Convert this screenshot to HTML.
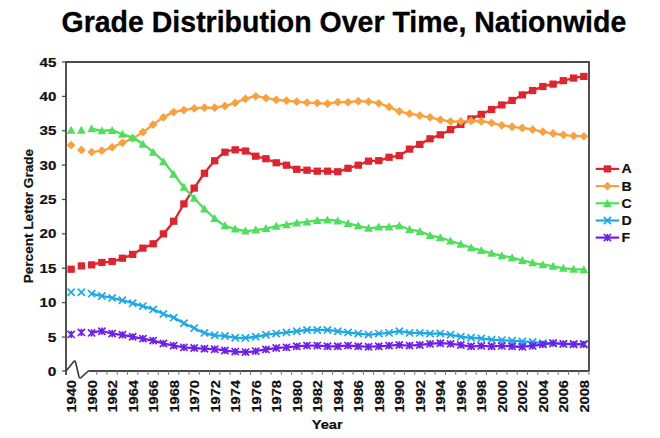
<!DOCTYPE html><html><head><meta charset="utf-8"><style>html,body{margin:0;padding:0;background:#fff;}svg{display:block;}text{font-family:"Liberation Sans",sans-serif;font-weight:bold;fill:#111;stroke:#111;stroke-width:0.2px;}</style></head><body>
<svg width="660" height="438" viewBox="0 0 660 438">
<rect width="660" height="438" fill="#fff"/>
<text transform="translate(61.5,32.2) scale(1,1.05)" x="0" y="0" font-size="28.5" style="fill:#000;stroke:#000;stroke-width:0.3px">Grade Distribution Over Time, Nationwide</text>
<path d="M66.0,62.0H589.0V371.0" stroke="#4a4a4a" stroke-width="1.9" fill="none"/>
<path d="M66.0,61.0V375.0" stroke="#4a4a4a" stroke-width="1.9" fill="none"/>
<path d="M62,371.00H66.0" stroke="#444" stroke-width="1.2"/>
<text x="56.4" y="375.60" font-size="12.6" text-anchor="end" textLength="8.6" lengthAdjust="spacingAndGlyphs">0</text>
<path d="M62,337.02H66.0" stroke="#444" stroke-width="1.2"/>
<text x="56.4" y="341.62" font-size="12.6" text-anchor="end" textLength="8.6" lengthAdjust="spacingAndGlyphs">5</text>
<path d="M62,302.64H66.0" stroke="#444" stroke-width="1.2"/>
<text x="56.4" y="307.24" font-size="12.6" text-anchor="end" textLength="16.8" lengthAdjust="spacingAndGlyphs">10</text>
<path d="M62,268.26H66.0" stroke="#444" stroke-width="1.2"/>
<text x="56.4" y="272.86" font-size="12.6" text-anchor="end" textLength="16.8" lengthAdjust="spacingAndGlyphs">15</text>
<path d="M62,233.88H66.0" stroke="#444" stroke-width="1.2"/>
<text x="56.4" y="238.48" font-size="12.6" text-anchor="end" textLength="16.8" lengthAdjust="spacingAndGlyphs">20</text>
<path d="M62,199.50H66.0" stroke="#444" stroke-width="1.2"/>
<text x="56.4" y="204.10" font-size="12.6" text-anchor="end" textLength="16.8" lengthAdjust="spacingAndGlyphs">25</text>
<path d="M62,165.12H66.0" stroke="#444" stroke-width="1.2"/>
<text x="56.4" y="169.72" font-size="12.6" text-anchor="end" textLength="16.8" lengthAdjust="spacingAndGlyphs">30</text>
<path d="M62,130.74H66.0" stroke="#444" stroke-width="1.2"/>
<text x="56.4" y="135.34" font-size="12.6" text-anchor="end" textLength="16.8" lengthAdjust="spacingAndGlyphs">35</text>
<path d="M62,96.36H66.0" stroke="#444" stroke-width="1.2"/>
<text x="56.4" y="100.96" font-size="12.6" text-anchor="end" textLength="16.8" lengthAdjust="spacingAndGlyphs">40</text>
<path d="M62,61.98H66.0" stroke="#444" stroke-width="1.2"/>
<text x="56.4" y="66.58" font-size="12.6" text-anchor="end" textLength="16.8" lengthAdjust="spacingAndGlyphs">45</text>
<path d="M66.0,371.0 L73.6,361.8 Q74.9,360.2 75.6,362.2 L79.0,376.8 Q79.8,378.6 81.0,377.6 L88.4,371.0 Q89,371.0 90,371.0" stroke="#3a3a3a" stroke-width="1.6" fill="none" stroke-linejoin="round"/>
<path d="M89.5,371.0H589.0" stroke="#4a4a4a" stroke-width="1.9" fill="none"/>
<path d="M96.76,371.0V374.8" stroke="#7a7a7a" stroke-width="1.1"/>
<path d="M107.02,371.0V374.8" stroke="#7a7a7a" stroke-width="1.1"/>
<path d="M117.27,371.0V374.8" stroke="#7a7a7a" stroke-width="1.1"/>
<path d="M127.53,371.0V374.8" stroke="#7a7a7a" stroke-width="1.1"/>
<path d="M137.78,371.0V374.8" stroke="#7a7a7a" stroke-width="1.1"/>
<path d="M148.04,371.0V374.8" stroke="#7a7a7a" stroke-width="1.1"/>
<path d="M158.29,371.0V374.8" stroke="#7a7a7a" stroke-width="1.1"/>
<path d="M168.55,371.0V374.8" stroke="#7a7a7a" stroke-width="1.1"/>
<path d="M178.80,371.0V374.8" stroke="#7a7a7a" stroke-width="1.1"/>
<path d="M189.06,371.0V374.8" stroke="#7a7a7a" stroke-width="1.1"/>
<path d="M199.31,371.0V374.8" stroke="#7a7a7a" stroke-width="1.1"/>
<path d="M209.57,371.0V374.8" stroke="#7a7a7a" stroke-width="1.1"/>
<path d="M219.82,371.0V374.8" stroke="#7a7a7a" stroke-width="1.1"/>
<path d="M230.08,371.0V374.8" stroke="#7a7a7a" stroke-width="1.1"/>
<path d="M240.33,371.0V374.8" stroke="#7a7a7a" stroke-width="1.1"/>
<path d="M250.59,371.0V374.8" stroke="#7a7a7a" stroke-width="1.1"/>
<path d="M260.84,371.0V374.8" stroke="#7a7a7a" stroke-width="1.1"/>
<path d="M271.10,371.0V374.8" stroke="#7a7a7a" stroke-width="1.1"/>
<path d="M281.35,371.0V374.8" stroke="#7a7a7a" stroke-width="1.1"/>
<path d="M291.61,371.0V374.8" stroke="#7a7a7a" stroke-width="1.1"/>
<path d="M301.86,371.0V374.8" stroke="#7a7a7a" stroke-width="1.1"/>
<path d="M312.12,371.0V374.8" stroke="#7a7a7a" stroke-width="1.1"/>
<path d="M322.37,371.0V374.8" stroke="#7a7a7a" stroke-width="1.1"/>
<path d="M332.63,371.0V374.8" stroke="#7a7a7a" stroke-width="1.1"/>
<path d="M342.88,371.0V374.8" stroke="#7a7a7a" stroke-width="1.1"/>
<path d="M353.14,371.0V374.8" stroke="#7a7a7a" stroke-width="1.1"/>
<path d="M363.39,371.0V374.8" stroke="#7a7a7a" stroke-width="1.1"/>
<path d="M373.65,371.0V374.8" stroke="#7a7a7a" stroke-width="1.1"/>
<path d="M383.90,371.0V374.8" stroke="#7a7a7a" stroke-width="1.1"/>
<path d="M394.16,371.0V374.8" stroke="#7a7a7a" stroke-width="1.1"/>
<path d="M404.41,371.0V374.8" stroke="#7a7a7a" stroke-width="1.1"/>
<path d="M414.67,371.0V374.8" stroke="#7a7a7a" stroke-width="1.1"/>
<path d="M424.92,371.0V374.8" stroke="#7a7a7a" stroke-width="1.1"/>
<path d="M435.18,371.0V374.8" stroke="#7a7a7a" stroke-width="1.1"/>
<path d="M445.43,371.0V374.8" stroke="#7a7a7a" stroke-width="1.1"/>
<path d="M455.69,371.0V374.8" stroke="#7a7a7a" stroke-width="1.1"/>
<path d="M465.94,371.0V374.8" stroke="#7a7a7a" stroke-width="1.1"/>
<path d="M476.20,371.0V374.8" stroke="#7a7a7a" stroke-width="1.1"/>
<path d="M486.45,371.0V374.8" stroke="#7a7a7a" stroke-width="1.1"/>
<path d="M496.71,371.0V374.8" stroke="#7a7a7a" stroke-width="1.1"/>
<path d="M506.96,371.0V374.8" stroke="#7a7a7a" stroke-width="1.1"/>
<path d="M517.22,371.0V374.8" stroke="#7a7a7a" stroke-width="1.1"/>
<path d="M527.47,371.0V374.8" stroke="#7a7a7a" stroke-width="1.1"/>
<path d="M537.73,371.0V374.8" stroke="#7a7a7a" stroke-width="1.1"/>
<path d="M547.98,371.0V374.8" stroke="#7a7a7a" stroke-width="1.1"/>
<path d="M558.24,371.0V374.8" stroke="#7a7a7a" stroke-width="1.1"/>
<path d="M568.49,371.0V374.8" stroke="#7a7a7a" stroke-width="1.1"/>
<path d="M578.75,371.0V374.8" stroke="#7a7a7a" stroke-width="1.1"/>
<path d="M589.00,371.0V374.8" stroke="#7a7a7a" stroke-width="1.1"/>
<text transform="translate(71.13,380.0) rotate(-90)" x="0" y="5.1" font-size="12.8" text-anchor="end" textLength="32.6" lengthAdjust="spacingAndGlyphs">1940</text>
<text transform="translate(91.64,380.0) rotate(-90)" x="0" y="5.1" font-size="12.8" text-anchor="end" textLength="32.6" lengthAdjust="spacingAndGlyphs">1960</text>
<text transform="translate(112.15,380.0) rotate(-90)" x="0" y="5.1" font-size="12.8" text-anchor="end" textLength="32.6" lengthAdjust="spacingAndGlyphs">1962</text>
<text transform="translate(132.66,380.0) rotate(-90)" x="0" y="5.1" font-size="12.8" text-anchor="end" textLength="32.6" lengthAdjust="spacingAndGlyphs">1964</text>
<text transform="translate(153.17,380.0) rotate(-90)" x="0" y="5.1" font-size="12.8" text-anchor="end" textLength="32.6" lengthAdjust="spacingAndGlyphs">1966</text>
<text transform="translate(173.68,380.0) rotate(-90)" x="0" y="5.1" font-size="12.8" text-anchor="end" textLength="32.6" lengthAdjust="spacingAndGlyphs">1968</text>
<text transform="translate(194.19,380.0) rotate(-90)" x="0" y="5.1" font-size="12.8" text-anchor="end" textLength="32.6" lengthAdjust="spacingAndGlyphs">1970</text>
<text transform="translate(214.70,380.0) rotate(-90)" x="0" y="5.1" font-size="12.8" text-anchor="end" textLength="32.6" lengthAdjust="spacingAndGlyphs">1972</text>
<text transform="translate(235.21,380.0) rotate(-90)" x="0" y="5.1" font-size="12.8" text-anchor="end" textLength="32.6" lengthAdjust="spacingAndGlyphs">1974</text>
<text transform="translate(255.72,380.0) rotate(-90)" x="0" y="5.1" font-size="12.8" text-anchor="end" textLength="32.6" lengthAdjust="spacingAndGlyphs">1976</text>
<text transform="translate(276.23,380.0) rotate(-90)" x="0" y="5.1" font-size="12.8" text-anchor="end" textLength="32.6" lengthAdjust="spacingAndGlyphs">1978</text>
<text transform="translate(296.74,380.0) rotate(-90)" x="0" y="5.1" font-size="12.8" text-anchor="end" textLength="32.6" lengthAdjust="spacingAndGlyphs">1980</text>
<text transform="translate(317.25,380.0) rotate(-90)" x="0" y="5.1" font-size="12.8" text-anchor="end" textLength="32.6" lengthAdjust="spacingAndGlyphs">1982</text>
<text transform="translate(337.75,380.0) rotate(-90)" x="0" y="5.1" font-size="12.8" text-anchor="end" textLength="32.6" lengthAdjust="spacingAndGlyphs">1984</text>
<text transform="translate(358.26,380.0) rotate(-90)" x="0" y="5.1" font-size="12.8" text-anchor="end" textLength="32.6" lengthAdjust="spacingAndGlyphs">1986</text>
<text transform="translate(378.77,380.0) rotate(-90)" x="0" y="5.1" font-size="12.8" text-anchor="end" textLength="32.6" lengthAdjust="spacingAndGlyphs">1988</text>
<text transform="translate(399.28,380.0) rotate(-90)" x="0" y="5.1" font-size="12.8" text-anchor="end" textLength="32.6" lengthAdjust="spacingAndGlyphs">1990</text>
<text transform="translate(419.79,380.0) rotate(-90)" x="0" y="5.1" font-size="12.8" text-anchor="end" textLength="32.6" lengthAdjust="spacingAndGlyphs">1992</text>
<text transform="translate(440.30,380.0) rotate(-90)" x="0" y="5.1" font-size="12.8" text-anchor="end" textLength="32.6" lengthAdjust="spacingAndGlyphs">1994</text>
<text transform="translate(460.81,380.0) rotate(-90)" x="0" y="5.1" font-size="12.8" text-anchor="end" textLength="32.6" lengthAdjust="spacingAndGlyphs">1996</text>
<text transform="translate(481.32,380.0) rotate(-90)" x="0" y="5.1" font-size="12.8" text-anchor="end" textLength="32.6" lengthAdjust="spacingAndGlyphs">1998</text>
<text transform="translate(501.83,380.0) rotate(-90)" x="0" y="5.1" font-size="12.8" text-anchor="end" textLength="32.6" lengthAdjust="spacingAndGlyphs">2000</text>
<text transform="translate(522.34,380.0) rotate(-90)" x="0" y="5.1" font-size="12.8" text-anchor="end" textLength="32.6" lengthAdjust="spacingAndGlyphs">2002</text>
<text transform="translate(542.85,380.0) rotate(-90)" x="0" y="5.1" font-size="12.8" text-anchor="end" textLength="32.6" lengthAdjust="spacingAndGlyphs">2004</text>
<text transform="translate(563.36,380.0) rotate(-90)" x="0" y="5.1" font-size="12.8" text-anchor="end" textLength="32.6" lengthAdjust="spacingAndGlyphs">2006</text>
<text transform="translate(583.87,380.0) rotate(-90)" x="0" y="5.1" font-size="12.8" text-anchor="end" textLength="32.6" lengthAdjust="spacingAndGlyphs">2008</text>
<text x="327.2" y="429.2" font-size="12.6" text-anchor="middle" textLength="31" lengthAdjust="spacingAndGlyphs">Year</text>
<text transform="translate(32.5,216.1) rotate(-90)" x="0" y="0" font-size="12.5" text-anchor="middle" textLength="134.4" lengthAdjust="spacingAndGlyphs">Percent Letter Grade</text>
<path d="M91.64,264.89 C93.35,264.49 98.47,263.05 101.89,262.48 C105.31,261.92 108.73,262.23 112.15,261.52 C115.57,260.81 118.98,259.41 122.40,258.22 C125.82,257.03 129.24,256.06 132.66,254.37 C136.08,252.69 139.49,249.88 142.91,248.11 C146.33,246.35 149.75,246.15 153.17,243.78 C156.58,241.41 160.00,237.64 163.42,233.88 C166.84,230.12 170.26,226.22 173.68,221.23 C177.09,216.23 180.51,209.42 183.93,203.90 C187.35,198.38 190.77,193.19 194.19,188.09 C197.60,182.99 201.02,177.85 204.44,173.30 C207.86,168.75 211.28,164.31 214.70,160.79 C218.11,157.27 221.53,154.03 224.95,152.19 C228.37,150.36 231.79,149.98 235.21,149.79 C238.62,149.59 242.04,149.96 245.46,151.02 C248.88,152.09 252.30,154.90 255.72,156.18 C259.13,157.46 262.55,157.63 265.97,158.73 C269.39,159.83 272.81,161.70 276.23,162.78 C279.64,163.86 283.06,164.10 286.48,165.19 C289.90,166.28 293.32,168.48 296.74,169.31 C300.15,170.15 303.57,169.90 306.99,170.21 C310.41,170.52 313.83,171.01 317.25,171.17 C320.66,171.33 324.08,171.08 327.50,171.17 C330.92,171.26 334.34,172.20 337.75,171.72 C341.17,171.24 344.59,169.37 348.01,168.28 C351.43,167.19 354.85,166.38 358.26,165.19 C361.68,164.00 365.10,161.89 368.52,161.13 C371.94,160.38 375.36,161.29 378.77,160.65 C382.19,160.01 385.61,158.12 389.03,157.28 C392.45,156.44 395.87,156.99 399.28,155.63 C402.70,154.27 406.12,150.97 409.54,149.10 C412.96,147.23 416.38,146.14 419.79,144.42 C423.21,142.70 426.63,140.39 430.05,138.78 C433.47,137.18 436.89,136.33 440.30,134.80 C443.72,133.26 447.14,131.30 450.56,129.57 C453.98,127.84 457.40,126.19 460.81,124.41 C464.23,122.64 467.65,120.60 471.07,118.91 C474.49,117.23 477.91,115.88 481.32,114.31 C484.74,112.74 488.16,111.05 491.58,109.49 C495.00,107.93 498.42,106.47 501.83,104.95 C505.25,103.44 508.67,102.09 512.09,100.42 C515.51,98.74 518.92,96.57 522.34,94.92 C525.76,93.27 529.18,91.91 532.60,90.52 C536.02,89.12 539.43,87.59 542.85,86.53 C546.27,85.46 549.69,85.09 553.11,84.12 C556.53,83.15 559.94,81.69 563.36,80.68 C566.78,79.67 570.20,78.78 573.62,78.07 C577.04,77.36 582.16,76.69 583.87,76.42" stroke="#e0242e" stroke-width="2.3" fill="none"/>
<rect x="67.43" y="265.62" width="7.4" height="7.2" fill="#e0242e"/>
<rect x="77.68" y="262.32" width="7.4" height="7.2" fill="#e0242e"/>
<rect x="87.94" y="261.29" width="7.4" height="7.2" fill="#e0242e"/>
<rect x="98.19" y="258.88" width="7.4" height="7.2" fill="#e0242e"/>
<rect x="108.45" y="257.92" width="7.4" height="7.2" fill="#e0242e"/>
<rect x="118.70" y="254.62" width="7.4" height="7.2" fill="#e0242e"/>
<rect x="128.96" y="250.77" width="7.4" height="7.2" fill="#e0242e"/>
<rect x="139.21" y="244.51" width="7.4" height="7.2" fill="#e0242e"/>
<rect x="149.47" y="240.18" width="7.4" height="7.2" fill="#e0242e"/>
<rect x="159.72" y="230.28" width="7.4" height="7.2" fill="#e0242e"/>
<rect x="169.98" y="217.63" width="7.4" height="7.2" fill="#e0242e"/>
<rect x="180.23" y="200.30" width="7.4" height="7.2" fill="#e0242e"/>
<rect x="190.49" y="184.49" width="7.4" height="7.2" fill="#e0242e"/>
<rect x="200.74" y="169.70" width="7.4" height="7.2" fill="#e0242e"/>
<rect x="211.00" y="157.19" width="7.4" height="7.2" fill="#e0242e"/>
<rect x="221.25" y="148.59" width="7.4" height="7.2" fill="#e0242e"/>
<rect x="231.51" y="146.19" width="7.4" height="7.2" fill="#e0242e"/>
<rect x="241.76" y="147.42" width="7.4" height="7.2" fill="#e0242e"/>
<rect x="252.02" y="152.58" width="7.4" height="7.2" fill="#e0242e"/>
<rect x="262.27" y="155.13" width="7.4" height="7.2" fill="#e0242e"/>
<rect x="272.53" y="159.18" width="7.4" height="7.2" fill="#e0242e"/>
<rect x="282.78" y="161.59" width="7.4" height="7.2" fill="#e0242e"/>
<rect x="293.04" y="165.71" width="7.4" height="7.2" fill="#e0242e"/>
<rect x="303.29" y="166.61" width="7.4" height="7.2" fill="#e0242e"/>
<rect x="313.55" y="167.57" width="7.4" height="7.2" fill="#e0242e"/>
<rect x="323.80" y="167.57" width="7.4" height="7.2" fill="#e0242e"/>
<rect x="334.05" y="168.12" width="7.4" height="7.2" fill="#e0242e"/>
<rect x="344.31" y="164.68" width="7.4" height="7.2" fill="#e0242e"/>
<rect x="354.56" y="161.59" width="7.4" height="7.2" fill="#e0242e"/>
<rect x="364.82" y="157.53" width="7.4" height="7.2" fill="#e0242e"/>
<rect x="375.07" y="157.05" width="7.4" height="7.2" fill="#e0242e"/>
<rect x="385.33" y="153.68" width="7.4" height="7.2" fill="#e0242e"/>
<rect x="395.58" y="152.03" width="7.4" height="7.2" fill="#e0242e"/>
<rect x="405.84" y="145.50" width="7.4" height="7.2" fill="#e0242e"/>
<rect x="416.09" y="140.82" width="7.4" height="7.2" fill="#e0242e"/>
<rect x="426.35" y="135.18" width="7.4" height="7.2" fill="#e0242e"/>
<rect x="436.60" y="131.20" width="7.4" height="7.2" fill="#e0242e"/>
<rect x="446.86" y="125.97" width="7.4" height="7.2" fill="#e0242e"/>
<rect x="457.11" y="120.81" width="7.4" height="7.2" fill="#e0242e"/>
<rect x="467.37" y="115.31" width="7.4" height="7.2" fill="#e0242e"/>
<rect x="477.62" y="110.71" width="7.4" height="7.2" fill="#e0242e"/>
<rect x="487.88" y="105.89" width="7.4" height="7.2" fill="#e0242e"/>
<rect x="498.13" y="101.35" width="7.4" height="7.2" fill="#e0242e"/>
<rect x="508.39" y="96.82" width="7.4" height="7.2" fill="#e0242e"/>
<rect x="518.64" y="91.32" width="7.4" height="7.2" fill="#e0242e"/>
<rect x="528.90" y="86.92" width="7.4" height="7.2" fill="#e0242e"/>
<rect x="539.15" y="82.93" width="7.4" height="7.2" fill="#e0242e"/>
<rect x="549.41" y="80.52" width="7.4" height="7.2" fill="#e0242e"/>
<rect x="559.66" y="77.08" width="7.4" height="7.2" fill="#e0242e"/>
<rect x="569.92" y="74.47" width="7.4" height="7.2" fill="#e0242e"/>
<rect x="580.17" y="72.82" width="7.4" height="7.2" fill="#e0242e"/>
<path d="M91.64,152.06 C93.35,151.83 98.47,151.48 101.89,150.68 C105.31,149.88 108.73,148.56 112.15,147.24 C115.57,145.92 118.98,144.26 122.40,142.77 C125.82,141.28 129.24,140.08 132.66,138.30 C136.08,136.53 139.49,134.41 142.91,132.12 C146.33,129.82 149.75,127.02 153.17,124.55 C156.58,122.09 160.00,119.42 163.42,117.33 C166.84,115.25 170.26,113.24 173.68,112.04 C177.09,110.83 180.51,110.72 183.93,110.11 C187.35,109.50 190.77,108.79 194.19,108.39 C197.60,107.99 201.02,107.82 204.44,107.71 C207.86,107.59 211.28,107.99 214.70,107.71 C218.11,107.42 221.53,106.79 224.95,105.99 C228.37,105.18 231.79,104.08 235.21,102.89 C238.62,101.70 242.04,99.92 245.46,98.84 C248.88,97.75 252.30,96.49 255.72,96.36 C259.13,96.23 262.55,97.51 265.97,98.08 C269.39,98.65 272.81,99.36 276.23,99.80 C279.64,100.23 283.06,100.38 286.48,100.69 C289.90,101.00 293.32,101.33 296.74,101.65 C300.15,101.98 303.57,102.38 306.99,102.62 C310.41,102.86 313.83,102.94 317.25,103.10 C320.66,103.26 324.08,103.73 327.50,103.58 C330.92,103.43 334.34,102.43 337.75,102.20 C341.17,101.98 344.59,102.38 348.01,102.20 C351.43,102.03 354.85,101.26 358.26,101.17 C361.68,101.08 365.10,101.29 368.52,101.65 C371.94,102.02 375.36,102.48 378.77,103.37 C382.19,104.27 385.61,105.70 389.03,107.02 C392.45,108.34 395.87,110.17 399.28,111.28 C402.70,112.39 406.12,112.97 409.54,113.69 C412.96,114.41 416.38,115.01 419.79,115.61 C423.21,116.22 426.63,116.64 430.05,117.33 C433.47,118.02 436.89,119.05 440.30,119.74 C443.72,120.43 447.14,121.17 450.56,121.46 C453.98,121.74 457.40,121.55 460.81,121.46 C464.23,121.37 467.65,120.91 471.07,120.91 C474.49,120.91 477.91,121.13 481.32,121.46 C484.74,121.79 488.16,122.26 491.58,122.90 C495.00,123.54 498.42,124.67 501.83,125.31 C505.25,125.95 508.67,126.30 512.09,126.75 C515.51,127.20 518.92,127.52 522.34,127.99 C525.76,128.46 529.18,128.94 532.60,129.57 C536.02,130.20 539.43,131.12 542.85,131.77 C546.27,132.42 549.69,132.97 553.11,133.49 C556.53,134.01 559.94,134.46 563.36,134.87 C566.78,135.27 570.20,135.66 573.62,135.90 C577.04,136.14 582.16,136.24 583.87,136.31" stroke="#faa03c" stroke-width="2.3" fill="none"/>
<path d="M71.13,140.78L75.53,145.18L71.13,149.58L66.73,145.18Z" fill="#faa03c"/>
<path d="M81.38,145.59L85.78,149.99L81.38,154.39L76.98,149.99Z" fill="#faa03c"/>
<path d="M91.64,147.66L96.04,152.06L91.64,156.46L87.24,152.06Z" fill="#faa03c"/>
<path d="M101.89,146.28L106.29,150.68L101.89,155.08L97.49,150.68Z" fill="#faa03c"/>
<path d="M112.15,142.84L116.55,147.24L112.15,151.64L107.75,147.24Z" fill="#faa03c"/>
<path d="M122.40,138.37L126.80,142.77L122.40,147.17L118.00,142.77Z" fill="#faa03c"/>
<path d="M132.66,133.90L137.06,138.30L132.66,142.70L128.26,138.30Z" fill="#faa03c"/>
<path d="M142.91,127.72L147.31,132.12L142.91,136.52L138.51,132.12Z" fill="#faa03c"/>
<path d="M153.17,120.15L157.57,124.55L153.17,128.95L148.77,124.55Z" fill="#faa03c"/>
<path d="M163.42,112.93L167.82,117.33L163.42,121.73L159.02,117.33Z" fill="#faa03c"/>
<path d="M173.68,107.64L178.08,112.04L173.68,116.44L169.28,112.04Z" fill="#faa03c"/>
<path d="M183.93,105.71L188.33,110.11L183.93,114.51L179.53,110.11Z" fill="#faa03c"/>
<path d="M194.19,103.99L198.59,108.39L194.19,112.79L189.79,108.39Z" fill="#faa03c"/>
<path d="M204.44,103.31L208.84,107.71L204.44,112.11L200.04,107.71Z" fill="#faa03c"/>
<path d="M214.70,103.31L219.10,107.71L214.70,112.11L210.30,107.71Z" fill="#faa03c"/>
<path d="M224.95,101.59L229.35,105.99L224.95,110.39L220.55,105.99Z" fill="#faa03c"/>
<path d="M235.21,98.49L239.61,102.89L235.21,107.29L230.81,102.89Z" fill="#faa03c"/>
<path d="M245.46,94.44L249.86,98.84L245.46,103.24L241.06,98.84Z" fill="#faa03c"/>
<path d="M255.72,91.96L260.12,96.36L255.72,100.76L251.32,96.36Z" fill="#faa03c"/>
<path d="M265.97,93.68L270.37,98.08L265.97,102.48L261.57,98.08Z" fill="#faa03c"/>
<path d="M276.23,95.40L280.63,99.80L276.23,104.20L271.83,99.80Z" fill="#faa03c"/>
<path d="M286.48,96.29L290.88,100.69L286.48,105.09L282.08,100.69Z" fill="#faa03c"/>
<path d="M296.74,97.25L301.14,101.65L296.74,106.05L292.34,101.65Z" fill="#faa03c"/>
<path d="M306.99,98.22L311.39,102.62L306.99,107.02L302.59,102.62Z" fill="#faa03c"/>
<path d="M317.25,98.70L321.65,103.10L317.25,107.50L312.85,103.10Z" fill="#faa03c"/>
<path d="M327.50,99.18L331.90,103.58L327.50,107.98L323.10,103.58Z" fill="#faa03c"/>
<path d="M337.75,97.80L342.15,102.20L337.75,106.60L333.35,102.20Z" fill="#faa03c"/>
<path d="M348.01,97.80L352.41,102.20L348.01,106.60L343.61,102.20Z" fill="#faa03c"/>
<path d="M358.26,96.77L362.66,101.17L358.26,105.57L353.86,101.17Z" fill="#faa03c"/>
<path d="M368.52,97.25L372.92,101.65L368.52,106.05L364.12,101.65Z" fill="#faa03c"/>
<path d="M378.77,98.97L383.17,103.37L378.77,107.77L374.37,103.37Z" fill="#faa03c"/>
<path d="M389.03,102.62L393.43,107.02L389.03,111.42L384.63,107.02Z" fill="#faa03c"/>
<path d="M399.28,106.88L403.68,111.28L399.28,115.68L394.88,111.28Z" fill="#faa03c"/>
<path d="M409.54,109.29L413.94,113.69L409.54,118.09L405.14,113.69Z" fill="#faa03c"/>
<path d="M419.79,111.21L424.19,115.61L419.79,120.01L415.39,115.61Z" fill="#faa03c"/>
<path d="M430.05,112.93L434.45,117.33L430.05,121.73L425.65,117.33Z" fill="#faa03c"/>
<path d="M440.30,115.34L444.70,119.74L440.30,124.14L435.90,119.74Z" fill="#faa03c"/>
<path d="M450.56,117.06L454.96,121.46L450.56,125.86L446.16,121.46Z" fill="#faa03c"/>
<path d="M460.81,117.06L465.21,121.46L460.81,125.86L456.41,121.46Z" fill="#faa03c"/>
<path d="M471.07,116.51L475.47,120.91L471.07,125.31L466.67,120.91Z" fill="#faa03c"/>
<path d="M481.32,117.06L485.72,121.46L481.32,125.86L476.92,121.46Z" fill="#faa03c"/>
<path d="M491.58,118.50L495.98,122.90L491.58,127.30L487.18,122.90Z" fill="#faa03c"/>
<path d="M501.83,120.91L506.23,125.31L501.83,129.71L497.43,125.31Z" fill="#faa03c"/>
<path d="M512.09,122.35L516.49,126.75L512.09,131.15L507.69,126.75Z" fill="#faa03c"/>
<path d="M522.34,123.59L526.74,127.99L522.34,132.39L517.94,127.99Z" fill="#faa03c"/>
<path d="M532.60,125.17L537.00,129.57L532.60,133.97L528.20,129.57Z" fill="#faa03c"/>
<path d="M542.85,127.37L547.25,131.77L542.85,136.17L538.45,131.77Z" fill="#faa03c"/>
<path d="M553.11,129.09L557.51,133.49L553.11,137.89L548.71,133.49Z" fill="#faa03c"/>
<path d="M563.36,130.47L567.76,134.87L563.36,139.27L558.96,134.87Z" fill="#faa03c"/>
<path d="M573.62,131.50L578.02,135.90L573.62,140.30L569.22,135.90Z" fill="#faa03c"/>
<path d="M583.87,131.91L588.27,136.31L583.87,140.71L579.47,136.31Z" fill="#faa03c"/>
<path d="M91.64,128.68 C93.35,129.02 98.47,130.45 101.89,130.74 C105.31,131.03 108.73,129.82 112.15,130.40 C115.57,130.97 118.98,132.97 122.40,134.18 C125.82,135.38 129.24,135.95 132.66,137.62 C136.08,139.28 139.49,141.74 142.91,144.15 C146.33,146.55 149.75,149.16 153.17,152.06 C156.58,154.95 160.00,157.85 163.42,161.54 C166.84,165.23 170.26,169.91 173.68,174.20 C177.09,178.48 180.51,183.25 183.93,187.26 C187.35,191.27 190.77,194.66 194.19,198.26 C197.60,201.86 201.02,205.51 204.44,208.85 C207.86,212.20 211.28,215.56 214.70,218.34 C218.11,221.13 221.53,223.80 224.95,225.56 C228.37,227.32 231.79,228.05 235.21,228.93 C238.62,229.81 242.04,230.68 245.46,230.85 C248.88,231.03 252.30,230.35 255.72,229.96 C259.13,229.57 262.55,229.15 265.97,228.52 C269.39,227.89 272.81,226.84 276.23,226.18 C279.64,225.51 283.06,225.08 286.48,224.53 C289.90,223.98 293.32,223.33 296.74,222.88 C300.15,222.43 303.57,222.26 306.99,221.85 C310.41,221.43 313.83,220.71 317.25,220.40 C320.66,220.09 324.08,219.90 327.50,219.99 C330.92,220.08 334.34,220.39 337.75,220.95 C341.17,221.51 344.59,222.56 348.01,223.36 C351.43,224.16 354.85,224.96 358.26,225.77 C361.68,226.57 365.10,227.98 368.52,228.17 C371.94,228.37 375.36,227.14 378.77,226.94 C382.19,226.73 385.61,227.13 389.03,226.94 C392.45,226.74 395.87,225.37 399.28,225.77 C402.70,226.17 406.12,228.39 409.54,229.34 C412.96,230.29 416.38,230.48 419.79,231.47 C423.21,232.47 426.63,234.30 430.05,235.32 C433.47,236.34 436.89,236.65 440.30,237.59 C443.72,238.53 447.14,239.85 450.56,240.96 C453.98,242.07 457.40,243.15 460.81,244.26 C464.23,245.37 467.65,246.61 471.07,247.63 C474.49,248.65 477.91,249.44 481.32,250.38 C484.74,251.32 488.16,252.39 491.58,253.27 C495.00,254.15 498.42,254.95 501.83,255.68 C505.25,256.40 508.67,256.80 512.09,257.60 C515.51,258.40 518.92,259.63 522.34,260.49 C525.76,261.35 529.18,262.06 532.60,262.76 C536.02,263.46 539.43,264.10 542.85,264.68 C546.27,265.27 549.69,265.68 553.11,266.27 C556.53,266.85 559.94,267.72 563.36,268.19 C566.78,268.66 570.20,268.86 573.62,269.09 C577.04,269.31 582.16,269.49 583.87,269.57" stroke="#4ee05a" stroke-width="2.3" fill="none"/>
<path d="M71.13,125.65L75.53,133.65L66.73,133.65Z" fill="#4ee05a"/>
<path d="M81.38,125.65L85.78,133.65L76.98,133.65Z" fill="#4ee05a"/>
<path d="M91.64,124.28L96.04,132.28L87.24,132.28Z" fill="#4ee05a"/>
<path d="M101.89,126.34L106.29,134.34L97.49,134.34Z" fill="#4ee05a"/>
<path d="M112.15,126.00L116.55,134.00L107.75,134.00Z" fill="#4ee05a"/>
<path d="M122.40,129.78L126.80,137.78L118.00,137.78Z" fill="#4ee05a"/>
<path d="M132.66,133.22L137.06,141.22L128.26,141.22Z" fill="#4ee05a"/>
<path d="M142.91,139.75L147.31,147.75L138.51,147.75Z" fill="#4ee05a"/>
<path d="M153.17,147.66L157.57,155.66L148.77,155.66Z" fill="#4ee05a"/>
<path d="M163.42,157.14L167.82,165.14L159.02,165.14Z" fill="#4ee05a"/>
<path d="M173.68,169.80L178.08,177.80L169.28,177.80Z" fill="#4ee05a"/>
<path d="M183.93,182.86L188.33,190.86L179.53,190.86Z" fill="#4ee05a"/>
<path d="M194.19,193.86L198.59,201.86L189.79,201.86Z" fill="#4ee05a"/>
<path d="M204.44,204.45L208.84,212.45L200.04,212.45Z" fill="#4ee05a"/>
<path d="M214.70,213.94L219.10,221.94L210.30,221.94Z" fill="#4ee05a"/>
<path d="M224.95,221.16L229.35,229.16L220.55,229.16Z" fill="#4ee05a"/>
<path d="M235.21,224.53L239.61,232.53L230.81,232.53Z" fill="#4ee05a"/>
<path d="M245.46,226.45L249.86,234.45L241.06,234.45Z" fill="#4ee05a"/>
<path d="M255.72,225.56L260.12,233.56L251.32,233.56Z" fill="#4ee05a"/>
<path d="M265.97,224.12L270.37,232.12L261.57,232.12Z" fill="#4ee05a"/>
<path d="M276.23,221.78L280.63,229.78L271.83,229.78Z" fill="#4ee05a"/>
<path d="M286.48,220.13L290.88,228.13L282.08,228.13Z" fill="#4ee05a"/>
<path d="M296.74,218.48L301.14,226.48L292.34,226.48Z" fill="#4ee05a"/>
<path d="M306.99,217.45L311.39,225.45L302.59,225.45Z" fill="#4ee05a"/>
<path d="M317.25,216.00L321.65,224.00L312.85,224.00Z" fill="#4ee05a"/>
<path d="M327.50,215.59L331.90,223.59L323.10,223.59Z" fill="#4ee05a"/>
<path d="M337.75,216.55L342.15,224.55L333.35,224.55Z" fill="#4ee05a"/>
<path d="M348.01,218.96L352.41,226.96L343.61,226.96Z" fill="#4ee05a"/>
<path d="M358.26,221.37L362.66,229.37L353.86,229.37Z" fill="#4ee05a"/>
<path d="M368.52,223.77L372.92,231.77L364.12,231.77Z" fill="#4ee05a"/>
<path d="M378.77,222.54L383.17,230.54L374.37,230.54Z" fill="#4ee05a"/>
<path d="M389.03,222.54L393.43,230.54L384.63,230.54Z" fill="#4ee05a"/>
<path d="M399.28,221.37L403.68,229.37L394.88,229.37Z" fill="#4ee05a"/>
<path d="M409.54,224.94L413.94,232.94L405.14,232.94Z" fill="#4ee05a"/>
<path d="M419.79,227.07L424.19,235.07L415.39,235.07Z" fill="#4ee05a"/>
<path d="M430.05,230.92L434.45,238.92L425.65,238.92Z" fill="#4ee05a"/>
<path d="M440.30,233.19L444.70,241.19L435.90,241.19Z" fill="#4ee05a"/>
<path d="M450.56,236.56L454.96,244.56L446.16,244.56Z" fill="#4ee05a"/>
<path d="M460.81,239.86L465.21,247.86L456.41,247.86Z" fill="#4ee05a"/>
<path d="M471.07,243.23L475.47,251.23L466.67,251.23Z" fill="#4ee05a"/>
<path d="M481.32,245.98L485.72,253.98L476.92,253.98Z" fill="#4ee05a"/>
<path d="M491.58,248.87L495.98,256.87L487.18,256.87Z" fill="#4ee05a"/>
<path d="M501.83,251.28L506.23,259.28L497.43,259.28Z" fill="#4ee05a"/>
<path d="M512.09,253.20L516.49,261.20L507.69,261.20Z" fill="#4ee05a"/>
<path d="M522.34,256.09L526.74,264.09L517.94,264.09Z" fill="#4ee05a"/>
<path d="M532.60,258.36L537.00,266.36L528.20,266.36Z" fill="#4ee05a"/>
<path d="M542.85,260.28L547.25,268.28L538.45,268.28Z" fill="#4ee05a"/>
<path d="M553.11,261.87L557.51,269.87L548.71,269.87Z" fill="#4ee05a"/>
<path d="M563.36,263.79L567.76,271.79L558.96,271.79Z" fill="#4ee05a"/>
<path d="M573.62,264.69L578.02,272.69L569.22,272.69Z" fill="#4ee05a"/>
<path d="M583.87,265.17L588.27,273.17L579.47,273.17Z" fill="#4ee05a"/>
<path d="M91.64,293.63 C93.35,294.02 98.47,295.26 101.89,295.97 C105.31,296.68 108.73,297.17 112.15,297.90 C115.57,298.62 118.98,299.42 122.40,300.30 C125.82,301.18 129.24,302.23 132.66,303.19 C136.08,304.15 139.49,305.05 142.91,306.08 C146.33,307.11 149.75,308.06 153.17,309.38 C156.58,310.70 160.00,312.61 163.42,313.99 C166.84,315.36 170.26,316.08 173.68,317.63 C177.09,319.18 180.51,321.53 183.93,323.27 C187.35,325.01 190.77,326.48 194.19,328.08 C197.60,329.69 201.02,331.69 204.44,332.89 C207.86,334.10 211.28,334.79 214.70,335.30 C218.11,335.82 221.53,335.59 224.95,335.99 C228.37,336.39 231.79,337.39 235.21,337.71 C238.62,338.03 242.04,338.07 245.46,337.91 C248.88,337.75 252.30,337.26 255.72,336.74 C259.13,336.23 262.55,335.35 265.97,334.82 C269.39,334.29 272.81,333.98 276.23,333.58 C279.64,333.18 283.06,332.81 286.48,332.41 C289.90,332.01 293.32,331.58 296.74,331.18 C300.15,330.77 303.57,330.20 306.99,330.01 C310.41,329.81 313.83,330.01 317.25,330.01 C320.66,330.01 324.08,329.81 327.50,330.01 C330.92,330.20 334.34,330.77 337.75,331.18 C341.17,331.58 344.59,332.01 348.01,332.41 C351.43,332.81 354.85,333.22 358.26,333.58 C361.68,333.95 365.10,334.61 368.52,334.61 C371.94,334.61 375.36,333.87 378.77,333.58 C382.19,333.30 385.61,333.30 389.03,332.89 C392.45,332.49 395.87,331.18 399.28,331.18 C402.70,331.18 406.12,332.61 409.54,332.89 C412.96,333.18 416.38,332.78 419.79,332.89 C423.21,333.01 426.63,333.47 430.05,333.58 C433.47,333.70 436.89,333.38 440.30,333.58 C443.72,333.79 447.14,334.29 450.56,334.82 C453.98,335.35 457.40,336.26 460.81,336.74 C464.23,337.23 467.65,337.43 471.07,337.71 C474.49,337.98 477.91,338.07 481.32,338.40 C484.74,338.72 488.16,339.35 491.58,339.63 C495.00,339.92 498.42,339.92 501.83,340.11 C505.25,340.31 508.67,340.57 512.09,340.80 C515.51,341.03 518.92,341.29 522.34,341.49 C525.76,341.68 529.18,341.68 532.60,341.97 C536.02,342.26 539.43,343.00 542.85,343.21 C546.27,343.41 549.69,343.09 553.11,343.21 C556.53,343.32 559.94,343.78 563.36,343.90 C566.78,344.01 570.20,343.90 573.62,343.90 C577.04,343.90 582.16,343.90 583.87,343.90" stroke="#1ea8e8" stroke-width="2.3" fill="none"/>
<path d="M67.53,288.59L74.73,295.79M67.53,295.79L74.73,288.59" stroke="#1ea8e8" stroke-width="1.7" fill="none"/>
<path d="M77.78,288.59L84.98,295.79M77.78,295.79L84.98,288.59" stroke="#1ea8e8" stroke-width="1.7" fill="none"/>
<path d="M88.04,290.03L95.24,297.23M88.04,297.23L95.24,290.03" stroke="#1ea8e8" stroke-width="1.7" fill="none"/>
<path d="M98.29,292.37L105.49,299.57M98.29,299.57L105.49,292.37" stroke="#1ea8e8" stroke-width="1.7" fill="none"/>
<path d="M108.55,294.30L115.75,301.50M108.55,301.50L115.75,294.30" stroke="#1ea8e8" stroke-width="1.7" fill="none"/>
<path d="M118.80,296.70L126.00,303.90M118.80,303.90L126.00,296.70" stroke="#1ea8e8" stroke-width="1.7" fill="none"/>
<path d="M129.06,299.59L136.26,306.79M129.06,306.79L136.26,299.59" stroke="#1ea8e8" stroke-width="1.7" fill="none"/>
<path d="M139.31,302.48L146.51,309.68M139.31,309.68L146.51,302.48" stroke="#1ea8e8" stroke-width="1.7" fill="none"/>
<path d="M149.57,305.78L156.77,312.98M149.57,312.98L156.77,305.78" stroke="#1ea8e8" stroke-width="1.7" fill="none"/>
<path d="M159.82,310.39L167.02,317.59M159.82,317.59L167.02,310.39" stroke="#1ea8e8" stroke-width="1.7" fill="none"/>
<path d="M170.08,314.03L177.28,321.23M170.08,321.23L177.28,314.03" stroke="#1ea8e8" stroke-width="1.7" fill="none"/>
<path d="M180.33,319.67L187.53,326.87M180.33,326.87L187.53,319.67" stroke="#1ea8e8" stroke-width="1.7" fill="none"/>
<path d="M190.59,324.48L197.79,331.68M190.59,331.68L197.79,324.48" stroke="#1ea8e8" stroke-width="1.7" fill="none"/>
<path d="M200.84,329.29L208.04,336.49M200.84,336.49L208.04,329.29" stroke="#1ea8e8" stroke-width="1.7" fill="none"/>
<path d="M211.10,331.70L218.30,338.90M211.10,338.90L218.30,331.70" stroke="#1ea8e8" stroke-width="1.7" fill="none"/>
<path d="M221.35,332.39L228.55,339.59M221.35,339.59L228.55,332.39" stroke="#1ea8e8" stroke-width="1.7" fill="none"/>
<path d="M231.61,334.11L238.81,341.31M231.61,341.31L238.81,334.11" stroke="#1ea8e8" stroke-width="1.7" fill="none"/>
<path d="M241.86,334.31L249.06,341.51M241.86,341.51L249.06,334.31" stroke="#1ea8e8" stroke-width="1.7" fill="none"/>
<path d="M252.12,333.14L259.32,340.34M252.12,340.34L259.32,333.14" stroke="#1ea8e8" stroke-width="1.7" fill="none"/>
<path d="M262.37,331.22L269.57,338.42M262.37,338.42L269.57,331.22" stroke="#1ea8e8" stroke-width="1.7" fill="none"/>
<path d="M272.63,329.98L279.83,337.18M272.63,337.18L279.83,329.98" stroke="#1ea8e8" stroke-width="1.7" fill="none"/>
<path d="M282.88,328.81L290.08,336.01M282.88,336.01L290.08,328.81" stroke="#1ea8e8" stroke-width="1.7" fill="none"/>
<path d="M293.14,327.58L300.34,334.78M293.14,334.78L300.34,327.58" stroke="#1ea8e8" stroke-width="1.7" fill="none"/>
<path d="M303.39,326.41L310.59,333.61M303.39,333.61L310.59,326.41" stroke="#1ea8e8" stroke-width="1.7" fill="none"/>
<path d="M313.65,326.41L320.85,333.61M313.65,333.61L320.85,326.41" stroke="#1ea8e8" stroke-width="1.7" fill="none"/>
<path d="M323.90,326.41L331.10,333.61M323.90,333.61L331.10,326.41" stroke="#1ea8e8" stroke-width="1.7" fill="none"/>
<path d="M334.15,327.58L341.35,334.78M334.15,334.78L341.35,327.58" stroke="#1ea8e8" stroke-width="1.7" fill="none"/>
<path d="M344.41,328.81L351.61,336.01M344.41,336.01L351.61,328.81" stroke="#1ea8e8" stroke-width="1.7" fill="none"/>
<path d="M354.66,329.98L361.86,337.18M354.66,337.18L361.86,329.98" stroke="#1ea8e8" stroke-width="1.7" fill="none"/>
<path d="M364.92,331.01L372.12,338.21M364.92,338.21L372.12,331.01" stroke="#1ea8e8" stroke-width="1.7" fill="none"/>
<path d="M375.17,329.98L382.37,337.18M375.17,337.18L382.37,329.98" stroke="#1ea8e8" stroke-width="1.7" fill="none"/>
<path d="M385.43,329.29L392.63,336.49M385.43,336.49L392.63,329.29" stroke="#1ea8e8" stroke-width="1.7" fill="none"/>
<path d="M395.68,327.58L402.88,334.78M395.68,334.78L402.88,327.58" stroke="#1ea8e8" stroke-width="1.7" fill="none"/>
<path d="M405.94,329.29L413.14,336.49M405.94,336.49L413.14,329.29" stroke="#1ea8e8" stroke-width="1.7" fill="none"/>
<path d="M416.19,329.29L423.39,336.49M416.19,336.49L423.39,329.29" stroke="#1ea8e8" stroke-width="1.7" fill="none"/>
<path d="M426.45,329.98L433.65,337.18M426.45,337.18L433.65,329.98" stroke="#1ea8e8" stroke-width="1.7" fill="none"/>
<path d="M436.70,329.98L443.90,337.18M436.70,337.18L443.90,329.98" stroke="#1ea8e8" stroke-width="1.7" fill="none"/>
<path d="M446.96,331.22L454.16,338.42M446.96,338.42L454.16,331.22" stroke="#1ea8e8" stroke-width="1.7" fill="none"/>
<path d="M457.21,333.14L464.41,340.34M457.21,340.34L464.41,333.14" stroke="#1ea8e8" stroke-width="1.7" fill="none"/>
<path d="M467.47,334.11L474.67,341.31M467.47,341.31L474.67,334.11" stroke="#1ea8e8" stroke-width="1.7" fill="none"/>
<path d="M477.72,334.80L484.92,342.00M477.72,342.00L484.92,334.80" stroke="#1ea8e8" stroke-width="1.7" fill="none"/>
<path d="M487.98,336.03L495.18,343.23M487.98,343.23L495.18,336.03" stroke="#1ea8e8" stroke-width="1.7" fill="none"/>
<path d="M498.23,336.51L505.43,343.71M498.23,343.71L505.43,336.51" stroke="#1ea8e8" stroke-width="1.7" fill="none"/>
<path d="M508.49,337.20L515.69,344.40M508.49,344.40L515.69,337.20" stroke="#1ea8e8" stroke-width="1.7" fill="none"/>
<path d="M518.74,337.89L525.94,345.09M518.74,345.09L525.94,337.89" stroke="#1ea8e8" stroke-width="1.7" fill="none"/>
<path d="M529.00,338.37L536.20,345.57M529.00,345.57L536.20,338.37" stroke="#1ea8e8" stroke-width="1.7" fill="none"/>
<path d="M539.25,339.61L546.45,346.81M539.25,346.81L546.45,339.61" stroke="#1ea8e8" stroke-width="1.7" fill="none"/>
<path d="M549.51,339.61L556.71,346.81M549.51,346.81L556.71,339.61" stroke="#1ea8e8" stroke-width="1.7" fill="none"/>
<path d="M559.76,340.30L566.96,347.50M559.76,347.50L566.96,340.30" stroke="#1ea8e8" stroke-width="1.7" fill="none"/>
<path d="M570.02,340.30L577.22,347.50M570.02,347.50L577.22,340.30" stroke="#1ea8e8" stroke-width="1.7" fill="none"/>
<path d="M580.27,340.30L587.47,347.50M580.27,347.50L587.47,340.30" stroke="#1ea8e8" stroke-width="1.7" fill="none"/>
<path d="M91.64,332.89 C93.35,332.61 98.47,331.06 101.89,331.18 C105.31,331.29 108.73,332.97 112.15,333.58 C115.57,334.19 118.98,334.29 122.40,334.82 C125.82,335.35 129.24,336.10 132.66,336.74 C136.08,337.39 139.49,338.03 142.91,338.67 C146.33,339.31 149.75,339.79 153.17,340.60 C156.58,341.40 160.00,342.65 163.42,343.48 C166.84,344.32 170.26,344.97 173.68,345.61 C177.09,346.26 180.51,346.93 183.93,347.33 C187.35,347.74 190.77,347.79 194.19,348.02 C197.60,348.25 201.02,348.51 204.44,348.71 C207.86,348.90 211.28,348.90 214.70,349.19 C218.11,349.48 221.53,350.03 224.95,350.43 C228.37,350.83 231.79,351.32 235.21,351.60 C238.62,351.87 242.04,352.16 245.46,352.08 C248.88,352.00 252.30,351.56 255.72,351.12 C259.13,350.67 262.55,349.91 265.97,349.40 C269.39,348.88 272.81,348.37 276.23,348.02 C279.64,347.68 283.06,347.62 286.48,347.33 C289.90,347.05 293.32,346.59 296.74,346.30 C300.15,346.02 303.57,345.73 306.99,345.61 C310.41,345.50 313.83,345.50 317.25,345.61 C320.66,345.73 324.08,346.19 327.50,346.30 C330.92,346.42 334.34,346.42 337.75,346.30 C341.17,346.19 344.59,345.61 348.01,345.61 C351.43,345.61 354.85,346.11 358.26,346.30 C361.68,346.50 365.10,346.78 368.52,346.78 C371.94,346.78 375.36,346.50 378.77,346.30 C382.19,346.11 385.61,345.84 389.03,345.61 C392.45,345.39 395.87,344.93 399.28,344.93 C402.70,344.93 406.12,345.61 409.54,345.61 C412.96,345.61 416.38,345.21 419.79,344.93 C423.21,344.64 426.63,344.18 430.05,343.90 C433.47,343.61 436.89,343.21 440.30,343.21 C443.72,343.21 447.14,343.61 450.56,343.90 C453.98,344.18 457.40,344.53 460.81,344.93 C464.23,345.33 467.65,346.14 471.07,346.30 C474.49,346.46 477.91,345.89 481.32,345.89 C484.74,345.89 488.16,346.30 491.58,346.30 C495.00,346.30 498.42,345.89 501.83,345.89 C505.25,345.89 508.67,346.15 512.09,346.30 C515.51,346.45 518.92,346.85 522.34,346.78 C525.76,346.72 529.18,346.29 532.60,345.89 C536.02,345.49 539.43,344.82 542.85,344.38 C546.27,343.93 549.69,343.29 553.11,343.21 C556.53,343.13 559.94,343.71 563.36,343.90 C566.78,344.08 570.20,344.24 573.62,344.31 C577.04,344.38 582.16,344.31 583.87,344.31" stroke="#6e1ef0" stroke-width="2.3" fill="none"/>
<path d="M67.53,330.81L74.73,338.01M67.53,338.01L74.73,330.81M71.13,330.81L71.13,338.01" stroke="#6e1ef0" stroke-width="1.7" fill="none"/>
<path d="M77.78,328.81L84.98,336.01M77.78,336.01L84.98,328.81M81.38,328.81L81.38,336.01" stroke="#6e1ef0" stroke-width="1.7" fill="none"/>
<path d="M88.04,329.29L95.24,336.49M88.04,336.49L95.24,329.29M91.64,329.29L91.64,336.49" stroke="#6e1ef0" stroke-width="1.7" fill="none"/>
<path d="M98.29,327.58L105.49,334.78M98.29,334.78L105.49,327.58M101.89,327.58L101.89,334.78" stroke="#6e1ef0" stroke-width="1.7" fill="none"/>
<path d="M108.55,329.98L115.75,337.18M108.55,337.18L115.75,329.98M112.15,329.98L112.15,337.18" stroke="#6e1ef0" stroke-width="1.7" fill="none"/>
<path d="M118.80,331.22L126.00,338.42M118.80,338.42L126.00,331.22M122.40,331.22L122.40,338.42" stroke="#6e1ef0" stroke-width="1.7" fill="none"/>
<path d="M129.06,333.14L136.26,340.34M129.06,340.34L136.26,333.14M132.66,333.14L132.66,340.34" stroke="#6e1ef0" stroke-width="1.7" fill="none"/>
<path d="M139.31,335.07L146.51,342.27M139.31,342.27L146.51,335.07M142.91,335.07L142.91,342.27" stroke="#6e1ef0" stroke-width="1.7" fill="none"/>
<path d="M149.57,337.00L156.77,344.20M149.57,344.20L156.77,337.00M153.17,337.00L153.17,344.20" stroke="#6e1ef0" stroke-width="1.7" fill="none"/>
<path d="M159.82,339.88L167.02,347.08M159.82,347.08L167.02,339.88M163.42,339.88L163.42,347.08" stroke="#6e1ef0" stroke-width="1.7" fill="none"/>
<path d="M170.08,342.01L177.28,349.21M170.08,349.21L177.28,342.01M173.68,342.01L173.68,349.21" stroke="#6e1ef0" stroke-width="1.7" fill="none"/>
<path d="M180.33,343.73L187.53,350.93M180.33,350.93L187.53,343.73M183.93,343.73L183.93,350.93" stroke="#6e1ef0" stroke-width="1.7" fill="none"/>
<path d="M190.59,344.42L197.79,351.62M190.59,351.62L197.79,344.42M194.19,344.42L194.19,351.62" stroke="#6e1ef0" stroke-width="1.7" fill="none"/>
<path d="M200.84,345.11L208.04,352.31M200.84,352.31L208.04,345.11M204.44,345.11L204.44,352.31" stroke="#6e1ef0" stroke-width="1.7" fill="none"/>
<path d="M211.10,345.59L218.30,352.79M211.10,352.79L218.30,345.59M214.70,345.59L214.70,352.79" stroke="#6e1ef0" stroke-width="1.7" fill="none"/>
<path d="M221.35,346.83L228.55,354.03M221.35,354.03L228.55,346.83M224.95,346.83L224.95,354.03" stroke="#6e1ef0" stroke-width="1.7" fill="none"/>
<path d="M231.61,348.00L238.81,355.20M231.61,355.20L238.81,348.00M235.21,348.00L235.21,355.20" stroke="#6e1ef0" stroke-width="1.7" fill="none"/>
<path d="M241.86,348.48L249.06,355.68M241.86,355.68L249.06,348.48M245.46,348.48L245.46,355.68" stroke="#6e1ef0" stroke-width="1.7" fill="none"/>
<path d="M252.12,347.52L259.32,354.72M252.12,354.72L259.32,347.52M255.72,347.52L255.72,354.72" stroke="#6e1ef0" stroke-width="1.7" fill="none"/>
<path d="M262.37,345.80L269.57,353.00M262.37,353.00L269.57,345.80M265.97,345.80L265.97,353.00" stroke="#6e1ef0" stroke-width="1.7" fill="none"/>
<path d="M272.63,344.42L279.83,351.62M272.63,351.62L279.83,344.42M276.23,344.42L276.23,351.62" stroke="#6e1ef0" stroke-width="1.7" fill="none"/>
<path d="M282.88,343.73L290.08,350.93M282.88,350.93L290.08,343.73M286.48,343.73L286.48,350.93" stroke="#6e1ef0" stroke-width="1.7" fill="none"/>
<path d="M293.14,342.70L300.34,349.90M293.14,349.90L300.34,342.70M296.74,342.70L296.74,349.90" stroke="#6e1ef0" stroke-width="1.7" fill="none"/>
<path d="M303.39,342.01L310.59,349.21M303.39,349.21L310.59,342.01M306.99,342.01L306.99,349.21" stroke="#6e1ef0" stroke-width="1.7" fill="none"/>
<path d="M313.65,342.01L320.85,349.21M313.65,349.21L320.85,342.01M317.25,342.01L317.25,349.21" stroke="#6e1ef0" stroke-width="1.7" fill="none"/>
<path d="M323.90,342.70L331.10,349.90M323.90,349.90L331.10,342.70M327.50,342.70L327.50,349.90" stroke="#6e1ef0" stroke-width="1.7" fill="none"/>
<path d="M334.15,342.70L341.35,349.90M334.15,349.90L341.35,342.70M337.75,342.70L337.75,349.90" stroke="#6e1ef0" stroke-width="1.7" fill="none"/>
<path d="M344.41,342.01L351.61,349.21M344.41,349.21L351.61,342.01M348.01,342.01L348.01,349.21" stroke="#6e1ef0" stroke-width="1.7" fill="none"/>
<path d="M354.66,342.70L361.86,349.90M354.66,349.90L361.86,342.70M358.26,342.70L358.26,349.90" stroke="#6e1ef0" stroke-width="1.7" fill="none"/>
<path d="M364.92,343.18L372.12,350.38M364.92,350.38L372.12,343.18M368.52,343.18L368.52,350.38" stroke="#6e1ef0" stroke-width="1.7" fill="none"/>
<path d="M375.17,342.70L382.37,349.90M375.17,349.90L382.37,342.70M378.77,342.70L378.77,349.90" stroke="#6e1ef0" stroke-width="1.7" fill="none"/>
<path d="M385.43,342.01L392.63,349.21M385.43,349.21L392.63,342.01M389.03,342.01L389.03,349.21" stroke="#6e1ef0" stroke-width="1.7" fill="none"/>
<path d="M395.68,341.33L402.88,348.53M395.68,348.53L402.88,341.33M399.28,341.33L399.28,348.53" stroke="#6e1ef0" stroke-width="1.7" fill="none"/>
<path d="M405.94,342.01L413.14,349.21M405.94,349.21L413.14,342.01M409.54,342.01L409.54,349.21" stroke="#6e1ef0" stroke-width="1.7" fill="none"/>
<path d="M416.19,341.33L423.39,348.53M416.19,348.53L423.39,341.33M419.79,341.33L419.79,348.53" stroke="#6e1ef0" stroke-width="1.7" fill="none"/>
<path d="M426.45,340.30L433.65,347.50M426.45,347.50L433.65,340.30M430.05,340.30L430.05,347.50" stroke="#6e1ef0" stroke-width="1.7" fill="none"/>
<path d="M436.70,339.61L443.90,346.81M436.70,346.81L443.90,339.61M440.30,339.61L440.30,346.81" stroke="#6e1ef0" stroke-width="1.7" fill="none"/>
<path d="M446.96,340.30L454.16,347.50M446.96,347.50L454.16,340.30M450.56,340.30L450.56,347.50" stroke="#6e1ef0" stroke-width="1.7" fill="none"/>
<path d="M457.21,341.33L464.41,348.53M457.21,348.53L464.41,341.33M460.81,341.33L460.81,348.53" stroke="#6e1ef0" stroke-width="1.7" fill="none"/>
<path d="M467.47,342.70L474.67,349.90M467.47,349.90L474.67,342.70M471.07,342.70L471.07,349.90" stroke="#6e1ef0" stroke-width="1.7" fill="none"/>
<path d="M477.72,342.29L484.92,349.49M477.72,349.49L484.92,342.29M481.32,342.29L481.32,349.49" stroke="#6e1ef0" stroke-width="1.7" fill="none"/>
<path d="M487.98,342.70L495.18,349.90M487.98,349.90L495.18,342.70M491.58,342.70L491.58,349.90" stroke="#6e1ef0" stroke-width="1.7" fill="none"/>
<path d="M498.23,342.29L505.43,349.49M498.23,349.49L505.43,342.29M501.83,342.29L501.83,349.49" stroke="#6e1ef0" stroke-width="1.7" fill="none"/>
<path d="M508.49,342.70L515.69,349.90M508.49,349.90L515.69,342.70M512.09,342.70L512.09,349.90" stroke="#6e1ef0" stroke-width="1.7" fill="none"/>
<path d="M518.74,343.18L525.94,350.38M518.74,350.38L525.94,343.18M522.34,343.18L522.34,350.38" stroke="#6e1ef0" stroke-width="1.7" fill="none"/>
<path d="M529.00,342.29L536.20,349.49M529.00,349.49L536.20,342.29M532.60,342.29L532.60,349.49" stroke="#6e1ef0" stroke-width="1.7" fill="none"/>
<path d="M539.25,340.78L546.45,347.98M539.25,347.98L546.45,340.78M542.85,340.78L542.85,347.98" stroke="#6e1ef0" stroke-width="1.7" fill="none"/>
<path d="M549.51,339.61L556.71,346.81M549.51,346.81L556.71,339.61M553.11,339.61L553.11,346.81" stroke="#6e1ef0" stroke-width="1.7" fill="none"/>
<path d="M559.76,340.30L566.96,347.50M559.76,347.50L566.96,340.30M563.36,340.30L563.36,347.50" stroke="#6e1ef0" stroke-width="1.7" fill="none"/>
<path d="M570.02,340.71L577.22,347.91M570.02,347.91L577.22,340.71M573.62,340.71L573.62,347.91" stroke="#6e1ef0" stroke-width="1.7" fill="none"/>
<path d="M580.27,340.71L587.47,347.91M580.27,347.91L587.47,340.71M583.87,340.71L583.87,347.91" stroke="#6e1ef0" stroke-width="1.7" fill="none"/>
<path d="M595.7,168.90H619.2" stroke="#e0242e" stroke-width="2.2"/>
<rect x="603.70" y="165.30" width="7.4" height="7.2" fill="#e0242e"/>
<text transform="translate(621.6,173.30) scale(1.15,1)" font-size="12.3">A</text>
<path d="M595.7,186.10H619.2" stroke="#faa03c" stroke-width="2.2"/>
<path d="M607.40,181.70L611.80,186.10L607.40,190.50L603.00,186.10Z" fill="#faa03c"/>
<text transform="translate(621.6,190.50) scale(1.15,1)" font-size="12.3">B</text>
<path d="M595.7,203.30H619.2" stroke="#4ee05a" stroke-width="2.2"/>
<path d="M607.40,198.90L611.80,206.90L603.00,206.90Z" fill="#4ee05a"/>
<text transform="translate(621.6,207.70) scale(1.15,1)" font-size="12.3">C</text>
<path d="M595.7,220.50H619.2" stroke="#1ea8e8" stroke-width="2.2"/>
<path d="M603.80,216.90L611.00,224.10M603.80,224.10L611.00,216.90" stroke="#1ea8e8" stroke-width="1.7" fill="none"/>
<text transform="translate(621.6,224.90) scale(1.15,1)" font-size="12.3">D</text>
<path d="M595.7,237.60H619.2" stroke="#6e1ef0" stroke-width="2.2"/>
<path d="M603.80,234.00L611.00,241.20M603.80,241.20L611.00,234.00M607.40,234.00L607.40,241.20" stroke="#6e1ef0" stroke-width="1.7" fill="none"/>
<text transform="translate(621.6,242.00) scale(1.15,1)" font-size="12.3">F</text>
</svg></body></html>
